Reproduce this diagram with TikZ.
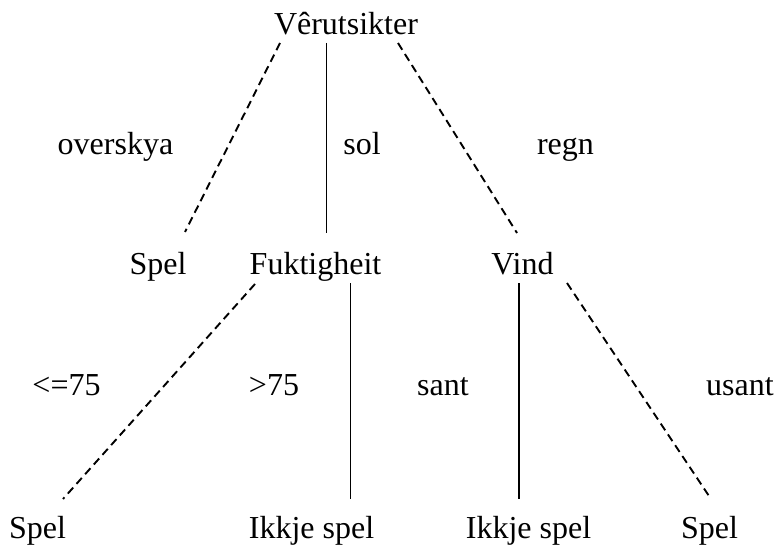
\documentclass[tikz,border=0pt]{standalone}
\usepackage{fontspec}
\setmainfont{Liberation Serif}
\usetikzlibrary{calc}

\tikzset{
    txt/.style={anchor=base, inner sep=0pt, font=\fontsize{32}{38}\selectfont},
    branch/.style={line width=1.9pt},
    dbranch/.style={branch, dash pattern=on 8pt off 5pt},
}

\begin{document}
\begin{tikzpicture}[x=1pt,y=-1pt]
    \useasboundingbox (0,0) rectangle (774,548);
    % tree nodes
    \node[txt] (root) at (346,35) {Vêrutsikter};
    \node[txt] (spelA) at (158,275) {Spel};
    \node[txt] (fukt) at (315.5,275) {Fuktigheit};
    \node[txt] (vind) at (522.5,275) {Vind};
    \node[txt] (spelB) at (37.5,538) {Spel};
    \node[txt] (ikkjeA) at (311.5,538) {Ikkje spel};
    \node[txt] (ikkjeB) at (528.5,538) {Ikkje spel};
    \node[txt] (spelC) at (709.5,538) {Spel};
    % branch labels
    \foreach \n/\x/\y/\t in {overskya/115.5/155/overskya, sol/362/155/sol, regn/565.5/155/regn,
        le/66.5/395/<=75, gt/274/395/>75, sant/443/395/sant, usant/740/395/usant} {
        \node[txt] (\n) at (\x,\y) {\t};
    }
    % branch ends
    \coordinate (r1) at (280,43);   \coordinate (a1) at (185,232);
    \coordinate (r2) at (326.5,43); \coordinate (f1) at (326.5,233);
    \coordinate (r3) at (398,43);   \coordinate (v1) at (517,233);
    \coordinate (f2) at (255,284);  \coordinate (b1) at (63,499);
    \coordinate (f3) at (350.5,283);\coordinate (i1) at (350.5,499);
    \coordinate (v2) at (519,283);  \coordinate (i2) at (519,499);
    \coordinate (v3) at (567,283);  \coordinate (c1) at (711,499);
    \draw[dbranch] (r1) -- (a1);
    \draw[branch] (r2) -- (f1);
    \draw[dbranch] (r3) -- (v1);
    \draw[dbranch] (f2) -- (b1);
    \draw[branch] (f3) -- (i1);
    \draw[branch] (v2) -- (i2);
    \draw[dbranch] (v3) -- (c1);
\end{tikzpicture}
\end{document}
